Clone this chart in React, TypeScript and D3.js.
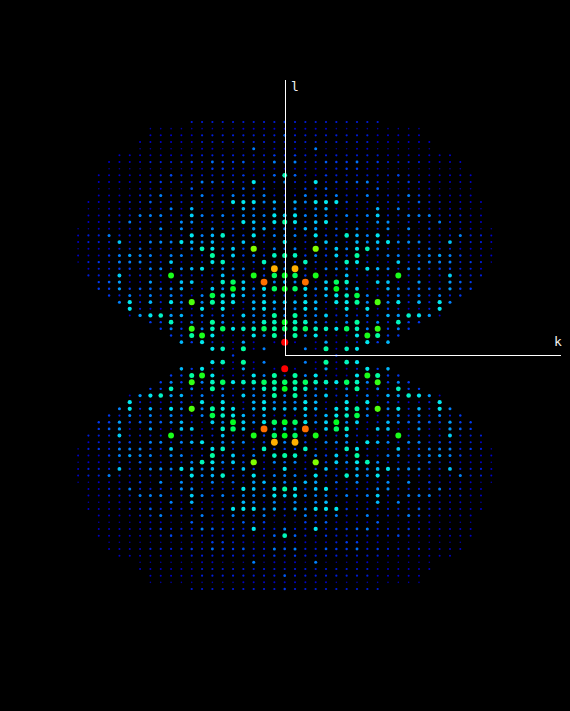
import React from "react";
import * as d3 from "d3";

const width = 570;
const height = 711;

// reflection intensity, one row per l (35 down to 0), index in a row is k.
// the other three quadrants are mirrors of this one
const lValues = d3.range(35, -1, -1);
const _ = null;
const intensity: (number | null)[][] = [
  [2, 1.5, 1.5, 1.5, 1.5, 1.5, 1.5, 1.5, 1.5, 1.5],
  [1, 1, 1, 1, 1, 0.5, 0.5, 0.5, 0.5, 0.5, 0.5, 0.5, 0.5, 0.5],
  [2.5, 1.5, 1.5, 1.5, 1.5, 1.5, 1.5, 1.5, 1.5, 1, 1, 1, 1, 1],
  [1.5, 1.5, 1.5, 1.5, 1.5, 1.5, 1.5, 1.5, 1.5, 1, 1, 1, 1, 1, 1],
  [1, 1, 0.5, 3, 0.5, 0.5, 0.5, 1, 1, 0.5, 0.5, 0.5, 0.5, 0.5, 0.5],
  [1.5, 2, 1.5, 1.5, 1.5, 1.5, 1.5, 1.5, 1.5, 1.5, 1, 1, 1, 1, 1, 1, 1],
  [2.5, 3, 1.5, 1.5, 2.5, 2, 2, 2.8, 1.5, 2, 1.5, 1.5, 1.5, 1.5, 1, 1, 1, 1],
  [1, 1, 1, 1, 1, 1.5, 2, 2, 1, 1, 0.5, 0.5, 0.5, 0.5, 0.5, 0.5, 0.5, 0.5],
  [5.7, 2.6, 1.5, 1, 2, 1.5, 1.5, 1.5, 1.5, 1.5, 1.5, 2.2, 1.5, 1, 1, 1, 1, 1, 1],
  [3, 1.5, 1.5, 5, 1.5, 2, 2, 2.6, 3, 1.5, 1.5, 1.5, 2, 1.5, 1, 1, 1, 1, 1],
  [1, 0.5, 2, 2, 2.5, 1, 1, 1, 1, 2.5, 0.5, 0.5, 1, 1, 1, 0.5, 0.5, 0.5, 0.5],
  [1.5, 1.5, 3, 2, 2, 3, 1.5, 1.5, 3, 1.5, 1.5, 1.5, 3, 2, 1.5, 1, 1, 1, 1],
  [2, 4, 3, 5, 5, 5, 2, 1.5, 1.5, 1.5, 1.5, 1.5, 1.5, 2.5, 1.5, 1.5, 1, 1, 1, 1],
  [1, 3, 1, 3, 4, 1, 1, 1, 1, 4, 1, 3, 1, 1, 1, 1, 1, 1, 0.5, 0.5],
  [4.5, 5, 3, 3, 3, 2, 3, 2, 3, 4.5, 1.5, 1.5, 3, 3, 3, 1.5, 1.5, 1.5, 1, 1],
  [6, 5, 2, 4.3, 5, 1.5, 1.5, 1.5, 1.5, 3.2, 3.2, 1.5, 1.5, 1.5, 1.5, 3, 1.5, 1.5, 1, 1],
  [3, 2, 4, 3.5, 1, 2.5, 1.5, 3, 1, 1.5, 3.2, 0.5, 3.2, 0.5, 2, 1, 1, 1, 1, 0.5, 0.5],
  [3, 3, 2, 5, 2, 2, 5.5, 4, 3, 5, 1.5, 1.5, 1.5, 1.5, 1.5, 1.5, 1.5, 3, 1.5, 1.5, 1],
  [5, 1, 1.5, 2, 4.3, 2, 1.5, 4, 3, 4.2, 5, 3, 3.2, 3, 1.5, 1.5, 4.3, 1.5, 1.5, 1.5, 1],
  [2.5, 3, 1, 8, 2, 4.5, 3, 5, 5.7, 3, 1.5, 1.5, 1.5, 1.5, 2.5, 1.5, 1.5, 1, 1, 1, 0.5],
  [6, 5.6, 2, 3, 2, 4.5, 2, 6, 1.5, 1.5, 3, 3, 1.5, 3, 3, 3.6, 3, 2, 1, 1, 1],
  [2, 2, 5.6, 2, 1, 1.5, 5.6, 5, 1.5, 1, 1, 4.5, 1.5, 2, 3, 3, 3, 1.5, 2, 1.5, 0.5],
  [3, 9.5, 2, 1, 3, 3, 3, 1.5, 5, 4, 3, 1.5, 3, 3, 1.5, 2, 2, 1.5, 1.5, 1],
  [7, 6.5, 2, 7.2, 1.5, 1.5, 4.2, 1.5, 1.5, 1.5, 1.5, 7.2, 1.5, 1.5, 1.5, 1.5, 4.5, 1.5, 1.5, 1.5],
  [4, 3, 10.5, 1, 4.5, 6.5, 5.5, 1.5, 1, 4.5, 4.2, 1, 1, 3.5, 1, 1, 3.5, 2.5, 2],
  [7, 6.5, 5, 3, 4.5, 7, 3, 4.5, 1, 1.5, 4, 3, 2.5, 2.5, 2.5, 2, 3.5, 2, 2],
  [2, 1, 4, 2, 4, 5, 5.5, 6.7, 3, 1, 2, 3, 1.5, 3, 1.5, 3, 1.5, 2],
  [4.5, 4, 5, 4, 1.5, 5, 5, 6, 3, 7.6, 3, 5, 1.5, 4, 1.5, 5, 3],
  [3, 3, 5, 4, 1, 1, 5, 1, 5, 1, 2, 1.5, 1, 1, 1.5, 5],
  [3, 6, 3, 3, 4.5, 1.5, 3, 1.5, 3, 1.5, 4, 3.5, 5.5, 5, 3.5, 1],
  [7, 5.6, 5.6, 3, 2, 1.5, 3, 6, 1.5, 3, 1.5, 5.6, 2, 2],
  [6.5, 6, 6.5, 5.6, 5.6, 5, 6.5, 5.6, 3, 7.4, 2, 3, 2],
  [1.5, 6, 3, 5, 1.5, 1, 1, 5, 7.2, 6, 2, 2],
  [12, 1, _, 1, 3.6, 1, 1, 1.5, 5, 2, 4],
  [_, _, 3, 1, 6, 1, 5.6, 5],
  [_, _, _, _, _, 2],
];

// intensity to colour, blue through cyan and green to red
const colorScale = d3
  .scaleLinear<string>()
  .domain([0, 1, 2, 3, 4, 5, 6, 7, 8, 9.5, 10.5, 12])
  .range([
    "#00008c", "#0000c8", "#0038f0", "#0080ff", "#00b8ff", "#00e8f0",
    "#00ffa0", "#00ff20", "#80ff00", "#ffb000", "#ff7000", "#ff0000",
  ])
  .clamp(true);

const radiusScale = d3
  .scaleLinear()
  .domain([0, 0.5, 1, 2, 3, 5, 7, 9.5, 12])
  .range([0.7, 0.8, 1, 1.2, 1.5, 2.1, 2.9, 3.4, 3.5])
  .clamp(true);

const xScale = d3.scaleLinear().domain([0, 20]).range([284.7, 491.3]);
const yScale = d3.scaleLinear().domain([0, 35]).range([355.5, 122]);

const App = () => {
  // mirror the quadrant in k and in l
  const points = lValues.flatMap((l, row) =>
    intensity[row].flatMap((value, k) => {
      if (value === null) return [];
      const ks = k === 0 ? [0] : [k, -k];
      const ls = l === 0 ? [0] : [l, -l];
      return d3.cross(ks, ls, (kk, ll) => ({ k: kk, l: ll, value }));
    })
  );

  return (
    <svg
      width={width}
      height={height}
      style={{ position: "absolute", left: 0, top: 0, display: "block", background: "#000" }}
    >
      <g>
        {points.map((d, i) => (
          <circle
            key={i}
            cx={xScale(d.k)}
            cy={yScale(d.l)}
            r={radiusScale(d.value)}
            fill={colorScale(d.value)}
          />
        ))}
      </g>
      <line x1={285.5} x2={285.5} y1={80} y2={356} stroke="#fff" strokeWidth={1} />
      <line x1={285} x2={561} y1={355.5} y2={355.5} stroke="#fff" strokeWidth={1} />
      <g opacity={0.95}>
        <text x={291} y={91} fill="#fff" fontFamily="DejaVu Sans Mono" fontSize={13}>
          l
        </text>
        <text x={554} y={346} fill="#fff" fontFamily="DejaVu Sans Mono" fontSize={13}>
          k
        </text>
      </g>
    </svg>
  );
};

export default App;
